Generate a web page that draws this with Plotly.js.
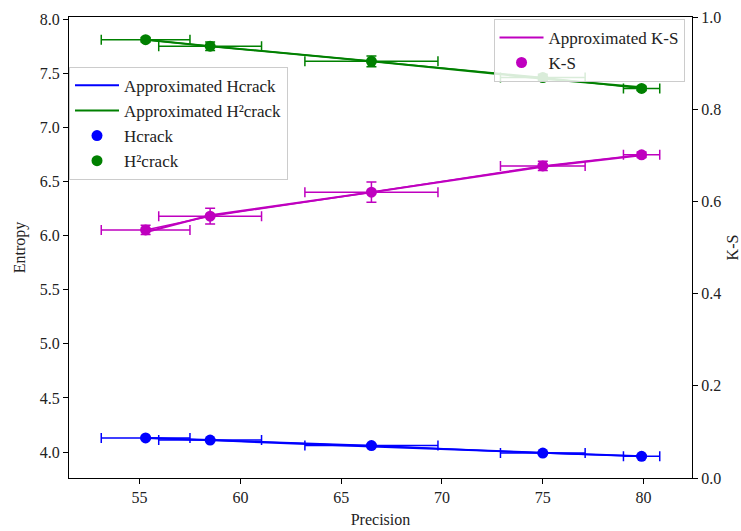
<!DOCTYPE html>
<html>
<head>
<meta charset="utf-8">
<script src="https://cdn.plot.ly/plotly-3.0.1.min.js"></script>
<style>html,body{margin:0;padding:0;background:#fff;}#chart{width:741px;height:531px;}</style>
</head>
<body>
<div id="chart"></div>
<script>
const precision = [55.3, 58.5, 66.5, 75.0, 79.9];
const precisionErr = [2.2, 2.55, 3.3, 2.1, 0.9];
const hcrack = [4.13, 4.11, 4.06, 3.99, 3.96];
const hcrackErr = [0.01, 0.01, 0.01, 0.01, 0.01];
const hcrackApprox = [4.13, 4.11, 4.05, 3.99, 3.96];
const h2crack = [7.81, 7.75, 7.61, 7.46, 7.36];
const h2crackErr = [0.02, 0.04, 0.05, 0.03, 0.02];
const h2crackApprox = [7.81, 7.75, 7.61, 7.45, 7.37];
const ks = [0.538, 0.568, 0.620, 0.677, 0.701];
const ksErr = [0.01, 0.017, 0.022, 0.01, 0.006];
const ksApprox = [0.533, 0.57, 0.62, 0.675, 0.70];

const BLUE = '#0000ff', GREEN = '#008000', MAG = '#bf00bf';
const FONT = 'Liberation Serif, Times New Roman, serif';

function approx(y, color, name, yaxis, legend, group) {
  return {x: precision, y: y, type: 'scatter', mode: 'lines', name: name,
    line: {color: color, width: 2}, yaxis: yaxis, legend: legend, legendgroup: group};
}
function pts(y, err, color, name, yaxis, legend, group) {
  return {x: precision, y: y, type: 'scatter', mode: 'markers', name: name,
    marker: {color: color, size: 11}, yaxis: yaxis, legend: legend, legendgroup: group,
    error_x: {type: 'data', array: precisionErr, color: color, thickness: 1.5, width: 5},
    error_y: {type: 'data', array: err, color: color, thickness: 1.5, width: 5}};
}
function conn(y, color, yaxis) {
  return {x: precision, y: y, type: 'scatter', mode: 'lines', showlegend: false,
    line: {color: color, width: 1.5}, yaxis: yaxis, hoverinfo: 'skip'};
}

const data = [
  conn(hcrack, BLUE, 'y'),
  conn(h2crack, GREEN, 'y'),
  conn(ks, MAG, 'y2'),
  approx(hcrackApprox, BLUE, 'Approximated Hcrack', 'y', 'legend', 'a'),
  approx(h2crackApprox, GREEN, 'Approximated H²crack', 'y', 'legend', 'b'),
  pts(hcrack, hcrackErr, BLUE, 'Hcrack', 'y', 'legend', 'c'),
  pts(h2crack, h2crackErr, GREEN, 'H²crack', 'y', 'legend', 'd'),
  approx(ksApprox, MAG, 'Approximated K-S', 'y2', 'legend2', 'e'),
  pts(ks, ksErr, MAG, 'K-S', 'y2', 'legend2', 'f')
];

const axisCommon = {
  showgrid: false, zeroline: false, showline: true, linecolor: '#000', linewidth: 1,
  ticks: 'outside', ticklen: 5, tickcolor: '#000', tickwidth: 1,
  tickfont: {family: FONT, size: 16, color: '#222'}
};

const legendCommon = {
  bgcolor: 'rgba(255,255,255,0.85)', bordercolor: '#cccccc', borderwidth: 1,
  font: {family: FONT, size: 17, color: '#222'}, traceorder: 'grouped', tracegroupgap: 0,
  xref: 'paper', yref: 'paper', itemwidth: 44
};

const layout = {
  width: 741, height: 531,
  margin: {l: 69, r: 49, t: 17, b: 53},
  paper_bgcolor: '#fff', plot_bgcolor: '#fff',
  showlegend: true,
  font: {family: FONT, size: 16, color: '#222'},
  xaxis: Object.assign({}, axisCommon, {
    range: [51.5, 82.4], tickvals: [55, 60, 65, 70, 75, 80], mirror: true,
    title: {text: 'Precision', font: {family: FONT, size: 16, color: '#222'}, standoff: 8}
  }),
  yaxis: Object.assign({}, axisCommon, {
    range: [3.76, 8.02], dtick: 0.5, tickformat: '.1f',
    title: {text: 'Entropy', font: {family: FONT, size: 16, color: '#222'}, standoff: 10}
  }),
  yaxis2: Object.assign({}, axisCommon, {
    range: [0, 1], dtick: 0.2, tickformat: '.1f', overlaying: 'y', side: 'right',
    title: {text: 'K-S', font: {family: FONT, size: 16, color: '#222'}, standoff: 10}
  }),
  legend: Object.assign({}, legendCommon, {x: 0.0, y: 0.892, xanchor: 'left', yanchor: 'top'}),
  legend2: Object.assign({}, legendCommon, {x: 0.988, y: 0.996, xanchor: 'right', yanchor: 'top'})
};

Plotly.newPlot('chart', data, layout, {displayModeBar: false, staticPlot: true});
</script>
</body>
</html>
